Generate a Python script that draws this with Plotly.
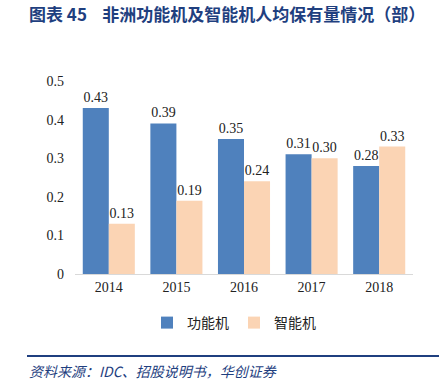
import plotly.graph_objects as go

years = ["2014", "2015", "2016", "2017", "2018"]
feature_phone = [0.43, 0.39, 0.35, 0.31, 0.28]
smart_phone = [0.13, 0.19, 0.24, 0.30, 0.33]
series_names = ["功能机", "智能机"]
y_ticks = [0, 0.1, 0.2, 0.3, 0.4, 0.5]
y_tick_text = ["0", "0.1", "0.2", "0.3", "0.4", "0.5"]

title_text = "图表 45&nbsp;&nbsp;&nbsp;&nbsp;非洲功能机及智能机人均保有量情况（部）"
source_text = "资料来源：IDC、招股说明书，华创证券"

BLUE = "#4F81BD"
PEACH = "#FBD4B4"
NAVY = "#1F3F7F"
serif = "Liberation Serif, Times New Roman, serif"
cjk = "Noto Sans CJK SC, sans-serif"

L, R, T, B = 75, 26, 81, 109
W, H = 439, 383
pw, ph = W - L - R, H - T - B

def px(x):
    return (x - L) / pw

def py(y):
    return (H - B - y) / ph

fig = go.Figure()
fig.add_trace(go.Bar(
    x=years, y=feature_phone, name=series_names[0],
    marker=dict(color=BLUE, line=dict(width=0)),
    text=[f"{v:.2f}" for v in feature_phone], textposition="outside",
    textfont=dict(family=serif, size=14, color="#222222"), cliponaxis=False,
))
fig.add_trace(go.Bar(
    x=years, y=smart_phone, name=series_names[1],
    marker=dict(color=PEACH, line=dict(width=0)),
    text=[f"{v:.2f}" for v in smart_phone], textposition="outside",
    textfont=dict(family=serif, size=14, color="#222222"), cliponaxis=False,
))

fig.update_layout(
    width=W, height=H,
    margin=dict(l=L, r=R, t=T, b=B),
    paper_bgcolor="white", plot_bgcolor="white",
    barmode="group", bargap=0.23, bargroupgap=0,
    showlegend=True,
    legend=dict(orientation="h", x=px(234), xanchor="center", y=py(323), yanchor="middle",
                font=dict(family=cjk, size=14, color="#222222"), itemwidth=30,
                traceorder="normal"),
    xaxis=dict(showline=True, linecolor="#D9D9D9", linewidth=1, ticks="",
               tickfont=dict(family=serif, size=14, color="#222222"), showgrid=False),
    yaxis=dict(range=[0, 0.5], tickvals=y_ticks, ticktext=y_tick_text, showgrid=False,
               zeroline=False, showline=False, ticks="", ticklabelstandoff=10,
               tickfont=dict(family=serif, size=14, color="#222222")),
)

fig.add_annotation(
    text=title_text, xref="paper", yref="paper", x=px(27), y=py(13),
    xanchor="left", yanchor="middle", showarrow=False,
    font=dict(family=cjk, size=17, color=NAVY, weight="bold"),
)
fig.add_shape(type="line", xref="paper", yref="paper",
              x0=px(27), x1=px(439), y0=py(356), y1=py(356),
              line=dict(color=NAVY, width=2))
fig.add_annotation(
    text="<i>" + source_text + "</i>", xref="paper", yref="paper", x=px(27), y=py(371),
    xanchor="left", yanchor="middle", showarrow=False,
    font=dict(family=cjk, size=14, color=NAVY),
)

fig.write_html("out.html", config={"displayModeBar": False},
               post_script="document.body.style.margin='0';")
